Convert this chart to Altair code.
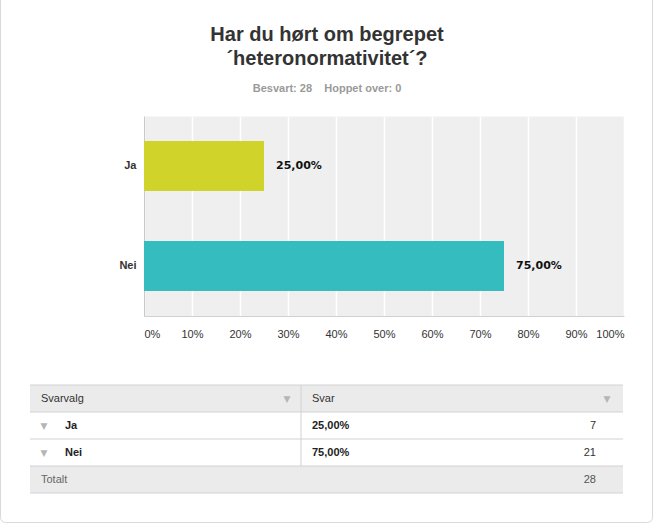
import altair as alt
import pandas as pd

# ---------------- data ----------------
title_lines = ["Har du hørt om begrepet", "´heteronormativitet´?"]
answered = 28
skipped = 0
categories = ["Ja", "Nei"]
percents = [25.0, 75.0]
counts = [7, 21]
bar_colors = ["#d0d42a", "#34bcbf"]
x_ticks = [0, 10, 20, 30, 40, 50, 60, 70, 80, 90, 100]
header_labels = ["Svarvalg", "Svar"]
total_label = "Totalt"


def fmt(p):
    return f"{p:.2f}".replace(".", ",") + "%"


bar_df = pd.DataFrame({
    "Svarvalg": categories,
    "Prosent": percents,
    "Etikett": [fmt(p) for p in percents],
})

rows = [header_labels[0]] + categories + [total_label]
tbl_df = pd.DataFrame({
    "Rad": rows,
    "Type": ["header"] + ["data"] * len(categories) + ["total"],
    "C1": [header_labels[0]] + categories + [total_label],
    "C2": [header_labels[1]] + [fmt(p) for p in percents] + [""],
    "C3": [""] + [str(c) for c in counts] + [str(sum(counts))],
})

subtitle = f"Besvart: {answered}\u00a0\u00a0\u00a0\u00a0Hoppet over: {skipped}"
one = pd.DataFrame({"k": [0]})

# ---------------- layout constants ----------------
W, H = 480, 200
PL, PT = 144, 116
FONT = "Liberation Sans"

# ---------------- card border + titles ----------------
card = alt.Chart(one).mark_rect(
    fillOpacity=0, stroke="#d9d9d9", strokeWidth=1, cornerRadius=5
).encode(x=alt.value(-143.5), x2=alt.value(508.5), y=alt.value(-140), y2=alt.value(406.5))

t1 = alt.Chart(one).mark_text(
    font=FONT, fontSize=20, fontWeight="bold", color="#333333", align="center", baseline="alphabetic"
).encode(x=alt.value(183), y=alt.value(-75), text=alt.value(title_lines[0]))
t2 = alt.Chart(one).mark_text(
    font=FONT, fontSize=20, fontWeight="bold", color="#333333", align="center", baseline="alphabetic"
).encode(x=alt.value(183), y=alt.value(-51), text=alt.value(title_lines[1]))
st = alt.Chart(one).mark_text(
    font=FONT, fontSize=11, fontWeight="bold", color="#9a9a9a", align="center", baseline="alphabetic"
).encode(x=alt.value(183), y=alt.value(-24), text=alt.value(subtitle))

# ---------------- bar chart ----------------
base = alt.Chart(bar_df)
x_enc = alt.X(
    "Prosent:Q",
    scale=alt.Scale(domain=[0, 100], nice=False),
    axis=alt.Axis(
        values=x_ticks, labelExpr="datum.value + '%'", title=None, grid=True,
        gridColor="#ffffff", gridWidth=1.5, ticks=False, domainColor="#d0d0d0",
        labelFont=FONT, labelFontSize=11, labelColor="#333333", labelPadding=12,
        labelFlush=True, labelOverlap=False,
    ),
)
y_enc = alt.Y(
    "Svarvalg:N", sort=categories,
    scale=alt.Scale(paddingInner=0, paddingOuter=0),
    axis=alt.Axis(
        title=None, ticks=False, domainColor="#c8c8c8", labelFont=FONT,
        labelFontWeight="bold", labelFontSize=11, labelColor="#333333", labelPadding=8,
    ),
)
bars = base.mark_bar(size=50).encode(
    x=x_enc, y=y_enc,
    color=alt.Color("Svarvalg:N", scale=alt.Scale(domain=categories, range=bar_colors), legend=None),
)
labels = base.mark_text(
    align="left", baseline="middle", dx=12, font="DejaVu Sans", fontWeight="bold",
    fontSize=11, color="#111111",
).encode(x=x_enc, y=y_enc, text="Etikett:N")

# ---------------- table ----------------
tb = alt.Chart(tbl_df)
row_scale = alt.Scale(domain=rows, range=[269, 377], paddingInner=0, paddingOuter=0)
ry = alt.Y("Rad:N", sort=rows, scale=row_scale, axis=None)

row_bg = tb.mark_rect(color="#ebebeb").encode(
    x=alt.value(-114), x2=alt.value(479), y=ry
).transform_filter("datum.Type != 'data'")
row_lines = tb.mark_rule(color="#d2d2d2", strokeWidth=1).encode(
    x=alt.value(-114), x2=alt.value(479),
    y=alt.Y("Rad:N", sort=rows, scale=row_scale, axis=None, bandPosition=0),
)
bottom_line = tb.mark_rule(color="#d2d2d2", strokeWidth=1).encode(
    x=alt.value(-114), x2=alt.value(479),
    y=alt.Y("Rad:N", sort=rows, scale=row_scale, axis=None, bandPosition=1),
).transform_filter("datum.Type == 'total'")
divider = alt.Chart(one).mark_rule(color="#d2d2d2", strokeWidth=1).encode(
    x=alt.value(157), y=alt.value(269), y2=alt.value(350)
)

head_filter = "datum.Type == 'header'"
data_filter = "datum.Type == 'data'"
tot_filter = "datum.Type == 'total'"


def txt(field, x, flt, weight="normal", color="#333333", align="left", size=11, font=FONT):
    return tb.mark_text(
        font=font, fontSize=size, fontWeight=weight, color=color, align=align, baseline="middle"
    ).encode(x=alt.value(x), y=ry, text=field).transform_filter(flt)


def tri(x, flt):
    return tb.mark_text(
        font="DejaVu Sans", fontSize=9, color="#b5b5b5", align="center", baseline="middle"
    ).encode(x=alt.value(x), y=ry, text=alt.value("▼")).transform_filter(flt)


table = alt.layer(
    row_bg, row_lines, bottom_line, divider,
    txt("C1:N", -103, head_filter),
    txt("C2:N", 168, head_filter),
    tri(143, head_filter), tri(463, head_filter),
    tri(-100, data_filter),
    txt("C1:N", -79, data_filter, weight="bold", color="#222222"),
    txt("C2:N", 168, data_filter, weight="bold", color="#222222"),
    txt("C3:N", 452, data_filter, align="right"),
    txt("C1:N", -103, tot_filter, color="#666666"),
    txt("C3:N", 452, tot_filter, align="right", color="#555555"),
)

chart = alt.layer(
    card, t1, t2, st,
    alt.layer(bars, labels),
    table,
).resolve_scale(y="independent").properties(
    width=W, height=H,
    background="#ffffff",
    autosize=alt.AutoSizeParams(type="none"),
    padding={"left": PL, "top": PT, "right": 655 - PL - W, "bottom": 526 - PT - H},
).configure_view(fill="#efefef", strokeOpacity=0)

chart.save("out.html", embed_options={"renderer": "svg", "actions": False})
